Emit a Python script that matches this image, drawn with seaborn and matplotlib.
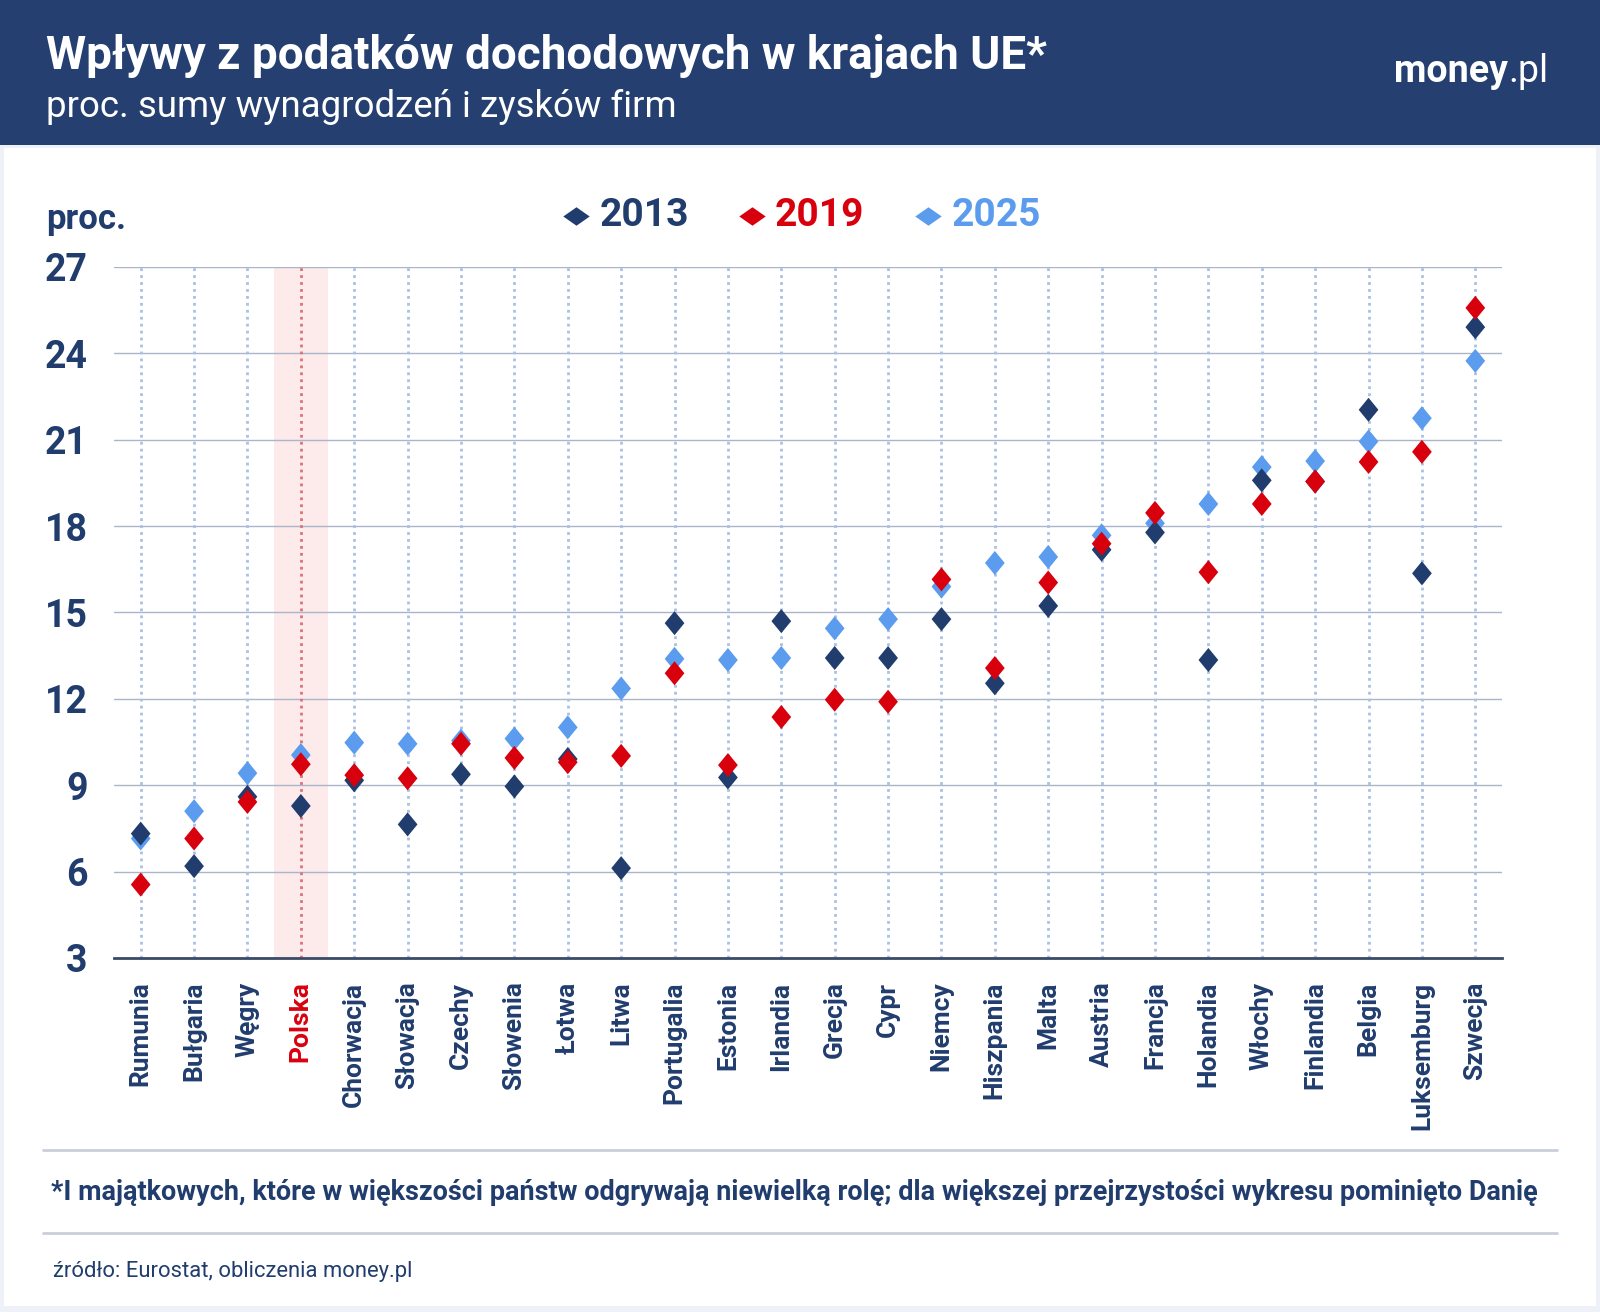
import matplotlib
matplotlib.use("Agg")
import matplotlib.pyplot as plt
from matplotlib.lines import Line2D
from matplotlib.patches import Rectangle
from matplotlib.path import Path
import pandas as pd
import seaborn as sns

# dane (proc.)
countries = ['Rumunia', 'Bułgaria', 'Węgry', 'Polska', 'Chorwacja', 'Słowacja',
             'Czechy', 'Słowenia', 'Łotwa', 'Litwa', 'Portugalia', 'Estonia',
             'Irlandia', 'Grecja', 'Cypr', 'Niemcy', 'Hiszpania', 'Malta',
             'Austria', 'Francja', 'Holandia', 'Włochy', 'Finlandia', 'Belgia',
             'Luksemburg', 'Szwecja']
v2013 = [7.32, 6.19, 8.60, 8.28, 9.17, 7.64, 9.38, 8.96, 9.91, 6.12, 14.63, 9.27,
         14.70, 13.42, 13.42, 14.77, 12.54, 15.23, 17.18, 17.78, 13.35, 19.59,
         19.55, 22.04, 16.36, 24.91]
v2019 = [5.55, 7.15, 8.42, 9.73, 9.35, 9.24, 10.44, 9.95, 9.80, 10.02, 12.89, 9.70,
         11.37, 11.97, 11.90, 16.15, 13.07, 16.04, 17.39, 18.46, 16.40, 18.77,
         19.55, 20.23, 20.58, 25.58]
v2025 = [7.15, 8.10, 9.42, 10.05, 10.48, 10.44, 10.55, 10.62, 11.01, 12.36, 13.39, 13.35,
         13.42, 14.45, 14.77, 15.90, 16.72, 16.93, 17.68, 18.10, 18.77, 20.05,
         20.26, 20.94, 21.75, 23.74]
years = ['2013', '2019', '2025']
highlight = 'Polska'

NAVY = '#213d6e'
RED = '#d9000d'
LIGHT = '#5c9cef'
HEADER = '#243f70'
colors = {'2013': NAVY, '2019': RED, '2025': LIGHT}

# kolejność rysowania: 2025 pod spodem, 2019 na wierzchu
rows = []
for year, vals in [('2025', v2025), ('2013', v2013), ('2019', v2019)]:
    for c, v in zip(countries, vals):
        rows.append({'Kraj': c, 'Rok': year, 'Wartosc': v})
df = pd.DataFrame(rows)

sns.set_style('white')
plt.rcParams['font.family'] = ['Roboto', 'DejaVu Sans']

W, H = 1600, 1312
fig = plt.figure(figsize=(W / 100, H / 100), dpi=100)
fig.patch.set_facecolor('#eef1f7')
fig.add_artist(Rectangle((4 / W, 6 / H), 1592 / W, 1158 / H, transform=fig.transFigure,
                         facecolor='white', edgecolor='none', zorder=0))
fig.add_artist(Rectangle((0, 1 - 145 / H), 1, 145 / H, transform=fig.transFigure,
                         facecolor=HEADER, edgecolor='none', zorder=0))

ax = fig.add_axes([114 / W, 354 / H, 1388 / W, 691 / H])
ax.set_facecolor('none')

# pionowe kropkowane linie i wyróżnienie Polski
for i, c in enumerate(countries):
    if c == highlight:
        ax.axvspan(i - 0.5, i + 0.5, color='#fdeaea', lw=0, zorder=0)
        ax.axvline(i, color='#d9737c', lw=2, ls=(0, (1, 1.5)), zorder=1)
    else:
        ax.axvline(i, color='#a9c1e6', lw=2, ls=(0, (1, 1.5)), zorder=1)

tall_diamond = Path([(-0.82, 0), (0, 1), (0.82, 0), (0, -1), (-0.82, 0)],
                    [Path.MOVETO, Path.LINETO, Path.LINETO, Path.LINETO, Path.CLOSEPOLY])
sns.scatterplot(data=df, x='Kraj', y='Wartosc', hue='Rok', palette=colors,
                marker=tall_diamond, s=300, linewidth=0, legend=False, ax=ax, zorder=3)

ax.set_xlim(-0.5, len(countries) - 0.5)
ax.set_ylim(3, 27)
ax.set_yticks(range(3, 28, 3))
ax.yaxis.grid(True, color='#aab5c9', lw=1)
ax.xaxis.grid(False)
ax.set_axisbelow(True)
for s in ['top', 'left', 'right']:
    ax.spines[s].set_visible(False)
ax.spines['bottom'].set_color('#3b4a66')
ax.spines['bottom'].set_linewidth(2)
ax.spines['bottom'].set_zorder(4)
ax.set_xlabel('')
ax.set_ylabel('')

ax.tick_params(axis='y', length=0, pad=19, labelsize=27, labelcolor=NAVY)
for lab in ax.get_yticklabels():
    lab.set_fontweight('bold')
ax.set_xticks(range(len(countries)))
ax.set_xticklabels(countries, rotation=90, fontsize=19, fontweight='bold',
                   color=NAVY, va='top', ha='center')
ax.tick_params(axis='x', length=0, pad=17)
for lab in ax.get_xticklabels():
    if lab.get_text() == highlight:
        lab.set_color(RED)

renderer = fig.canvas.get_renderer()


def fit(t, width_px):
    w = t.get_window_extent(renderer).width
    t.set_fontsize(t.get_fontsize() * width_px / w)


def fx(px):
    return px / W


def fy(py):
    return 1 - py / H


# nagłówek
t = fig.text(fx(46), fy(56), 'Wpływy z podatków dochodowych w krajach UE*', color='white',
             fontsize=31, fontweight='bold', va='center', ha='left')
fit(t, 1000)
t = fig.text(fx(46), fy(107), 'proc. sumy wynagrodzeń i zysków firm', color='white',
             fontsize=24, va='center', ha='left')
fit(t, 630)
fig.text(fx(1508), fy(72), 'money', color='white', fontsize=27, fontweight='bold',
         va='center', ha='right')
fig.text(fx(1508), fy(72), '.pl', color='white', fontsize=27, va='center', ha='left')

fig.text(fx(46), fy(219), 'proc.', color=NAVY, fontsize=25, fontweight='bold',
         va='center', ha='left')

# legenda
wide_diamond = [(-1, 0), (0, 0.7), (1, 0), (0, -0.7)]
leg = {'2013': (576, 600), '2019': (752, 775), '2025': (928, 952)}
for year in years:
    mx, tx = leg[year]
    fig.add_artist(Line2D([fx(mx)], [fy(216)], transform=fig.transFigure, marker=wide_diamond,
                          markersize=19, color=colors[year], lw=0, markeredgewidth=0))
    fig.text(fx(tx), fy(216), year, color=colors[year], fontsize=28, fontweight='bold',
             va='center', ha='left')

# stopka
for yy in [1150, 1233]:
    fig.add_artist(Line2D([fx(43), fx(1557)], [fy(yy), fy(yy)], transform=fig.transFigure,
                          color='#c8cfdb', lw=2))
t = fig.text(fx(51), fy(1193), '*I majątkowych, które w większości państw odgrywają niewielką '
             'rolę; dla większej przejrzystości wykresu pominięto Danię', color=NAVY,
             fontsize=17, fontweight='bold', va='center', ha='left')
fit(t, 1488)
t = fig.text(fx(53), fy(1272), 'źródło: Eurostat, obliczenia money.pl', color=NAVY,
             fontsize=14, va='center', ha='left')
fit(t, 360)

fig.savefig('out.png', dpi=100)
